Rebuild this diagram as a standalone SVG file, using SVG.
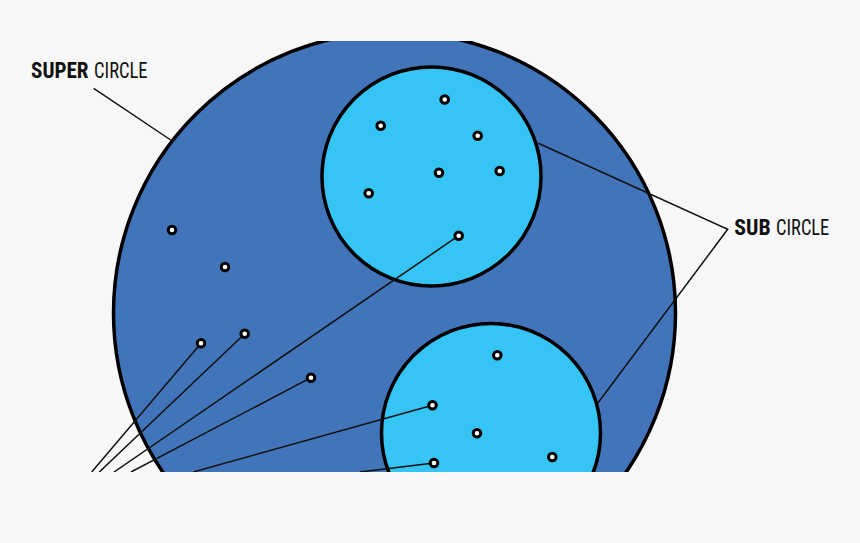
<svg xmlns="http://www.w3.org/2000/svg" width="860" height="543" viewBox="0 0 860 543">
<style>
.super{fill:#4274b9;stroke:#000;stroke-width:3.5}
.sub{fill:#35c4f3;stroke:#000;stroke-width:3.5}
.dot{fill:#fff;stroke:#000;stroke-width:3}
.con{fill:none;stroke:#111;stroke-width:1.5}
.lbl{font-family:"Liberation Sans Narrow","Roboto Condensed","Liberation Sans",Arial,sans-serif;font-size:21.5px;fill:#111}
.b{font-weight:bold}
</style>
<defs>
<clipPath id="crop"><rect x="0" y="41" width="860" height="431"/></clipPath>
</defs>
<rect x="0" y="0" width="860" height="543" fill="#f7f7f7"/>
<g clip-path="url(#crop)">
<g id="super-circle"><circle class="super" cx="394.5" cy="313" r="281"/></g>
<g id="sub-circle-top"><circle class="sub" cx="431.5" cy="176.5" r="109.5"/></g>
<g id="sub-circle-bottom"><circle class="sub" cx="491" cy="433" r="109.5"/></g>
<g id="connectors">
<path class="con" d="M93.7 88.3 L170.7 140"/>
<path class="con" d="M538.3 143.3 L727.7 229.3 L597.7 403.3"/>
<path class="con" d="M201 343.3 L91.7 472"/>
<path class="con" d="M244.7 333.7 L99.3 472"/>
<path class="con" d="M458.7 235.7 L114 472"/>
<path class="con" d="M311 377.7 L131 472"/>
<path class="con" d="M432.5 405.3 L193.3 472"/>
<path class="con" d="M434 463 L360 472"/>
</g>
<g id="dots">
<circle class="dot" cx="444.7" cy="99.5" r="3.8"/>
<circle class="dot" cx="380.7" cy="125.7" r="3.8"/>
<circle class="dot" cx="477.7" cy="135.7" r="3.8"/>
<circle class="dot" cx="439" cy="172.7" r="3.8"/>
<circle class="dot" cx="499.7" cy="171" r="3.8"/>
<circle class="dot" cx="368.7" cy="193.3" r="3.8"/>
<circle class="dot" cx="458.7" cy="235.7" r="3.8"/>
<circle class="dot" cx="172" cy="230" r="3.8"/>
<circle class="dot" cx="225" cy="267" r="3.8"/>
<circle class="dot" cx="201" cy="343.3" r="3.8"/>
<circle class="dot" cx="244.7" cy="333.7" r="3.8"/>
<circle class="dot" cx="311" cy="377.7" r="3.8"/>
<circle class="dot" cx="497.3" cy="355.3" r="3.8"/>
<circle class="dot" cx="432.5" cy="405.3" r="3.8"/>
<circle class="dot" cx="477" cy="433.3" r="3.8"/>
<circle class="dot" cx="434" cy="463" r="3.8"/>
<circle class="dot" cx="552.3" cy="457" r="3.8"/>
</g>
</g>
<g id="label-super">
<text class="lbl b" x="31" y="77.8" textLength="57.5" lengthAdjust="spacingAndGlyphs">SUPER</text>
<text class="lbl" x="94" y="77.8" textLength="53.5" lengthAdjust="spacingAndGlyphs">CIRCLE</text>
</g>
<g id="label-sub">
<text class="lbl b" x="734.3" y="234.8" textLength="36.4" lengthAdjust="spacingAndGlyphs">SUB</text>
<text class="lbl" x="776" y="234.8" textLength="53.3" lengthAdjust="spacingAndGlyphs">CIRCLE</text>
</g>
</svg>
